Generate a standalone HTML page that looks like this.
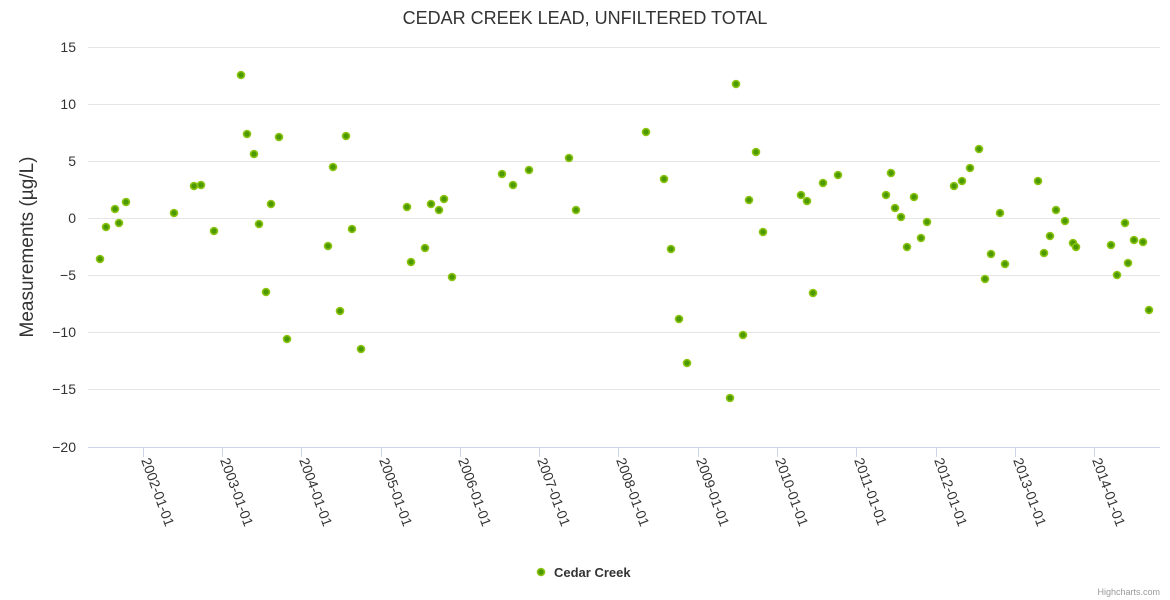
<!DOCTYPE html>
<html><head><meta charset="utf-8"><style>
body{margin:0;background:#fff;}
svg{font-family:"Liberation Sans","DejaVu Sans",sans-serif;display:block}
</style></head><body>
<svg width="1170" height="600" xmlns="http://www.w3.org/2000/svg">
<text x="585" y="24" text-anchor="middle" font-size="18" fill="#333">CEDAR CREEK LEAD, UNFILTERED TOTAL</text>
<g stroke="#e6e6e6" stroke-width="1">
<line x1="88" x2="1160" y1="47.5" y2="47.5"/><line x1="88" x2="1160" y1="104.5" y2="104.5"/>
<line x1="88" x2="1160" y1="161.5" y2="161.5"/><line x1="88" x2="1160" y1="218.5" y2="218.5"/>
<line x1="88" x2="1160" y1="275.5" y2="275.5"/><line x1="88" x2="1160" y1="332.5" y2="332.5"/>
<line x1="88" x2="1160" y1="389.5" y2="389.5"/>
</g>
<line x1="88" x2="1160" y1="447.5" y2="447.5" stroke="#ccd6eb"/>
<g font-size="14" fill="#333" text-anchor="end">
<text x="76" y="52">15</text><text x="76" y="109">10</text><text x="76" y="166">5</text>
<text x="76" y="223">0</text><text x="76" y="280">−5</text><text x="76" y="337">−10</text>
<text x="76" y="394">−15</text><text x="76" y="452">−20</text>
</g>
<text transform="translate(33,247) rotate(-90)" text-anchor="middle" font-size="19" fill="#333">Measurements (µg/L)</text>
<g stroke="#ccd6eb">
<line x1="143.5" x2="143.5" y1="447" y2="457"/><line x1="222.5" x2="222.5" y1="447" y2="457"/>
<line x1="301.5" x2="301.5" y1="447" y2="457"/><line x1="381.5" x2="381.5" y1="447" y2="457"/>
<line x1="460.5" x2="460.5" y1="447" y2="457"/><line x1="539.5" x2="539.5" y1="447" y2="457"/>
<line x1="618.5" x2="618.5" y1="447" y2="457"/><line x1="698.5" x2="698.5" y1="447" y2="457"/>
<line x1="777.5" x2="777.5" y1="447" y2="457"/><line x1="856.5" x2="856.5" y1="447" y2="457"/>
<line x1="936.5" x2="936.5" y1="447" y2="457"/><line x1="1015.5" x2="1015.5" y1="447" y2="457"/>
<line x1="1094.5" x2="1094.5" y1="447" y2="457"/>
</g>
<g font-size="14" fill="#333">
<text transform="translate(141,460) rotate(70)">2002-01-01</text>
<text transform="translate(220,460) rotate(70)">2003-01-01</text>
<text transform="translate(299,460) rotate(70)">2004-01-01</text>
<text transform="translate(379,460) rotate(70)">2005-01-01</text>
<text transform="translate(458,460) rotate(70)">2006-01-01</text>
<text transform="translate(537,460) rotate(70)">2007-01-01</text>
<text transform="translate(616,460) rotate(70)">2008-01-01</text>
<text transform="translate(696,460) rotate(70)">2009-01-01</text>
<text transform="translate(775,460) rotate(70)">2010-01-01</text>
<text transform="translate(854,460) rotate(70)">2011-01-01</text>
<text transform="translate(934,460) rotate(70)">2012-01-01</text>
<text transform="translate(1013,460) rotate(70)">2013-01-01</text>
<text transform="translate(1092,460) rotate(70)">2014-01-01</text>
</g>
<g fill="#4c9a00" stroke="#8cc413" stroke-width="1.6">
<circle cx="100" cy="259" r="3.5"/><circle cx="106" cy="227" r="3.5"/><circle cx="115" cy="209" r="3.5"/><circle cx="119" cy="223" r="3.5"/><circle cx="126" cy="202" r="3.5"/>
<circle cx="174" cy="213" r="3.5"/><circle cx="194" cy="186" r="3.5"/><circle cx="201" cy="185" r="3.5"/><circle cx="214" cy="231" r="3.5"/><circle cx="241" cy="75" r="3.5"/>
<circle cx="247" cy="134" r="3.5"/><circle cx="254" cy="154" r="3.5"/><circle cx="259" cy="224" r="3.5"/><circle cx="266" cy="292" r="3.5"/><circle cx="271" cy="204" r="3.5"/>
<circle cx="279" cy="137" r="3.5"/><circle cx="287" cy="339" r="3.5"/><circle cx="328" cy="246" r="3.5"/><circle cx="333" cy="167" r="3.5"/><circle cx="340" cy="311" r="3.5"/>
<circle cx="346" cy="136" r="3.5"/><circle cx="352" cy="229" r="3.5"/><circle cx="361" cy="349" r="3.5"/><circle cx="407" cy="207" r="3.5"/><circle cx="411" cy="262" r="3.5"/>
<circle cx="425" cy="248" r="3.5"/><circle cx="431" cy="204" r="3.5"/><circle cx="439" cy="210" r="3.5"/><circle cx="444" cy="199" r="3.5"/><circle cx="452" cy="277" r="3.5"/>
<circle cx="502" cy="174" r="3.5"/><circle cx="513" cy="185" r="3.5"/><circle cx="529" cy="170" r="3.5"/><circle cx="569" cy="158" r="3.5"/><circle cx="576" cy="210" r="3.5"/>
<circle cx="646" cy="132" r="3.5"/><circle cx="664" cy="179" r="3.5"/><circle cx="671" cy="249" r="3.5"/><circle cx="679" cy="319" r="3.5"/><circle cx="687" cy="363" r="3.5"/>
<circle cx="730" cy="398" r="3.5"/><circle cx="736" cy="84" r="3.5"/><circle cx="743" cy="335" r="3.5"/><circle cx="749" cy="200" r="3.5"/><circle cx="756" cy="152" r="3.5"/>
<circle cx="763" cy="232" r="3.5"/><circle cx="801" cy="195" r="3.5"/><circle cx="807" cy="201" r="3.5"/><circle cx="813" cy="293" r="3.5"/><circle cx="823" cy="183" r="3.5"/>
<circle cx="838" cy="175" r="3.5"/><circle cx="886" cy="195" r="3.5"/><circle cx="891" cy="173" r="3.5"/><circle cx="895" cy="208" r="3.5"/><circle cx="901" cy="217" r="3.5"/>
<circle cx="907" cy="247" r="3.5"/><circle cx="914" cy="197" r="3.5"/><circle cx="921" cy="238" r="3.5"/><circle cx="927" cy="222" r="3.5"/><circle cx="954" cy="186" r="3.5"/>
<circle cx="962" cy="181" r="3.5"/><circle cx="970" cy="168" r="3.5"/><circle cx="979" cy="149" r="3.5"/><circle cx="985" cy="279" r="3.5"/><circle cx="991" cy="254" r="3.5"/>
<circle cx="1000" cy="213" r="3.5"/><circle cx="1005" cy="264" r="3.5"/><circle cx="1038" cy="181" r="3.5"/><circle cx="1044" cy="253" r="3.5"/><circle cx="1050" cy="236" r="3.5"/>
<circle cx="1056" cy="210" r="3.5"/><circle cx="1065" cy="221" r="3.5"/><circle cx="1073" cy="243" r="3.5"/><circle cx="1076" cy="247" r="3.5"/><circle cx="1111" cy="245" r="3.5"/>
<circle cx="1117" cy="275" r="3.5"/><circle cx="1125" cy="223" r="3.5"/><circle cx="1128" cy="263" r="3.5"/><circle cx="1134" cy="240" r="3.5"/><circle cx="1143" cy="242" r="3.5"/>
<circle cx="1149" cy="310" r="3.5"/>
<circle cx="541" cy="572" r="3.5"/>
</g>
<text x="554" y="577" font-size="13" font-weight="bold" fill="#333">Cedar Creek</text>
<text x="1160" y="595" text-anchor="end" font-size="9" fill="#999">Highcharts.com</text>
</svg>
</body></html>
